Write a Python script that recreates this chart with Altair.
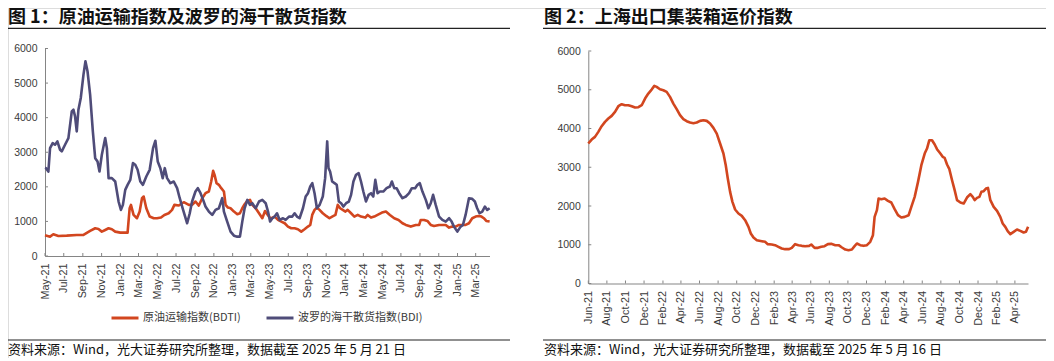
import altair as alt
import pandas as pd
import numpy as np

# ---------------- data ----------------
# Left panel: months after 2021-05-01 (axis label "May-21")
bdi_t = [0, 0.11, 0.36, 0.54, 0.82, 1.07, 1.32, 1.61, 1.79, 2.14, 2.5, 2.86, 3.04, 3.21, 3.39, 3.57, 3.82,
         4.11, 4.32, 4.54, 4.82, 5.11, 5.36, 5.61, 5.82, 6.07, 6.43, 6.61, 6.79, 7.14, 7.5, 7.86, 8.11, 8.32,
         8.57, 8.82, 9.11, 9.39, 9.64, 9.89, 10.18, 10.46, 10.82, 11.18, 11.54, 11.79, 12.04, 12.32, 12.57,
         12.79, 13.04, 13.39, 13.75, 14.11, 14.39, 14.75, 15.18, 15.46, 15.71, 16.07, 16.32, 16.61, 16.89,
         17.14, 17.5, 17.86, 18.21, 18.57, 18.93, 19.11, 19.46, 19.82, 20.18, 20.54, 20.82, 21.07, 21.32,
         21.61, 21.89, 22.14, 22.5, 22.86, 23.21, 23.57, 23.82, 24.04, 24.28, 24.53, 24.78, 25.06, 25.42,
         25.70, 26.06, 26.41, 26.66, 26.91, 27.19, 27.55, 27.84, 28.09, 28.33, 28.55, 28.79, 29.04, 29.33,
         29.67, 29.92, 30.14, 30.28, 30.45, 30.67, 30.92, 31.16, 31.38, 31.63, 31.87, 32.16, 32.45, 32.69,
         32.94, 33.22, 33.50, 33.75, 34.0, 34.28, 34.57, 34.82, 35.06, 35.28, 35.52, 35.77, 36.13, 36.48,
         36.84, 37.05, 37.30, 37.55, 37.83, 38.18, 38.54, 38.89, 39.18, 39.53, 39.78, 40.03, 40.31, 40.67,
         40.95, 41.20, 41.45, 41.73, 42.09, 42.44, 42.80, 43.16, 43.43, 43.68, 44.04, 44.39, 44.64, 44.92,
         45.28, 45.63, 45.91, 46.16, 46.41, 46.70, 46.98, 47.23, 47.49]
bdi_v = [2550, 2540, 2440, 3120, 3265, 3217, 3313, 3072, 3024, 3217, 3410, 4183, 4231, 4038, 3603, 4231, 4569,
         5245, 5632, 5342, 4666, 3603, 2830, 2734, 2444, 2927, 3410, 3120, 2251, 2251, 2154, 1575, 1333, 1478,
         1913, 2058, 2202, 2685, 2637, 2492, 2154, 2058, 2299, 2492, 3120, 3333, 2734, 2540, 2251,
         2540, 2251, 2106, 2154, 1961, 1671, 1333, 947, 1236, 1575, 1864, 1961, 1816, 1623,
         1430, 1285, 1188, 1333, 1381, 1671, 1285, 995, 705, 589, 560, 560, 995, 1381,
         1623, 1478, 1526, 1381, 1575, 1623, 1526, 1285, 995, 1092, 1140, 1236, 1043, 1092,
         1043, 1140, 1140, 1236, 1140, 1092, 1381, 1720, 1816, 2009, 2106, 1816, 1381, 1478,
         1720, 2251, 3313, 2540, 2444, 2154, 2106, 2058, 1575, 1526, 1430, 1526, 1575, 1768,
         2154, 2347, 2396, 2154, 1864, 1575, 1768, 1816, 1720, 2202, 1816, 1864, 1864, 1961,
         2009, 2154, 1961, 1961, 1816, 1671, 1720, 1816, 1961, 1961, 2058, 2106, 1864, 1623,
         1381, 1526, 1768, 1478, 1140, 1043, 995, 1092, 995, 850, 705, 850, 898, 1188,
         1671, 1652, 1575, 1381, 1236, 1285, 1430, 1333, 1381]

bdti_t = [0, 0.54, 0.89, 1.43, 2.32, 3.39, 4.11, 4.82, 5.36, 5.71, 6.07, 6.43, 6.79, 7.14, 7.5, 8.04, 8.82,
          9.04, 9.18, 9.46, 9.82, 10.11, 10.36, 10.54, 10.82, 11.18, 11.61, 11.96, 12.39, 12.75, 13.21, 13.57,
          13.82, 14.29, 14.82, 15.36, 15.71, 16.07, 16.43, 16.79, 17.14, 17.5, 17.75, 17.96, 18.11, 18.32,
          18.57, 18.82, 19.11, 19.29, 19.54, 19.82, 20.18, 20.54, 20.82, 21.07, 21.32, 21.61, 21.89, 22.14,
          22.5, 22.86, 23.21, 23.5, 23.75, 24.04, 24.18, 24.53, 24.89, 25.24, 25.60, 25.95, 26.30, 26.66,
          27.01, 27.37, 27.72, 28.08, 28.33, 28.54, 28.79, 29.04, 29.32, 29.67, 30.03, 30.38, 30.67, 31.02,
          31.27, 31.52, 31.80, 32.09, 32.33, 32.69, 33.04, 33.40, 33.75, 34.21, 34.46, 34.82, 35.17, 35.52,
          35.99, 36.41, 36.84, 37.30, 37.76, 38.18, 38.54, 39.07, 39.60, 39.96, 40.13, 40.49, 40.84, 41.20,
          41.55, 42.09, 42.44, 42.80, 43.16, 43.50, 43.86, 44.21, 44.57, 44.92, 45.28, 45.63, 45.99, 46.34,
          46.62, 46.87, 47.13, 47.49]
bdti_v = [600, 560, 628, 580, 589, 609, 609, 725, 802, 782, 705, 753, 802, 773, 705, 676, 676,
          1381, 1478, 1188, 1092, 1285, 1671, 1720, 1381, 1140, 1092, 1092, 1111, 1188, 1236, 1333,
          1478, 1459, 1555, 1478, 1478, 1575, 1459, 1671, 1816, 1864, 2154, 2463, 2347, 2106,
          2058, 1961, 1864, 1478, 1400, 1381, 1285, 1208, 1236, 1381, 1497, 1594, 1623, 1478,
          1381, 1236, 1092, 1300, 1200, 1100, 1092, 1140, 1043, 995, 947, 850, 802, 802,
          773, 705, 773, 850, 898, 1188, 1333, 1400, 1333, 1236, 1159, 1092, 1140, 1188,
          1478, 1381, 1333, 1285, 1333, 1236, 1140, 1188, 1140, 1111, 1188, 1111, 1140, 1188,
          1256, 1285, 1188, 1092, 1043, 947, 898, 850, 898, 898, 1043, 1043, 1014, 898,
          869, 898, 898, 898, 821, 850, 850, 898, 898, 898, 947, 1092, 1140, 1159,
          1140, 1092, 1014, 995]

# Right panel: months after 2021-06-01 (axis label "Jun-21")
scfi_t = [0, 0.36, 0.72, 1.08, 1.44, 1.80, 2.16, 2.52, 2.88, 3.24, 3.60, 3.96, 4.32, 4.68, 5.04, 5.40, 5.76,
          6.12, 6.47, 6.83, 7.12, 7.37, 7.73, 8.09, 8.45, 8.81, 9.17, 9.53, 9.89, 10.25, 10.61, 10.97, 11.33,
          11.69, 12.05, 12.41, 12.77, 13.13, 13.49, 13.85, 14.21, 14.57, 14.82, 15.04, 15.29, 15.54, 15.83,
          16.19, 16.55, 16.91, 17.27, 17.52, 17.81, 18.17, 18.71, 19.06, 19.35, 19.78, 20.14, 20.50, 20.86,
          21.22, 21.65, 21.94, 22.30, 22.66, 23.02, 23.38, 23.81, 24.04, 24.40, 24.76, 25.12, 25.47, 25.83,
          26.19, 26.63, 26.99, 27.35, 27.71, 28.06, 28.42, 28.71, 28.96, 29.32, 29.68, 30.04, 30.40, 30.69,
          30.87, 31.12, 31.30, 31.59, 31.95, 32.31, 32.67, 33.03, 33.39, 33.75, 34.11, 34.54, 34.83, 35.19,
          35.55, 35.91, 36.27, 36.52, 36.77, 37.06, 37.35, 37.60, 37.96, 38.21, 38.42, 38.68, 38.93, 39.22,
          39.50, 39.76, 40.12, 40.47, 40.83, 41.19, 41.45, 41.66, 41.91, 42.17, 42.38, 42.63, 42.88, 43.09,
          43.35, 43.71, 44.07, 44.42, 44.68, 44.96, 45.22, 45.50, 45.86, 46.22, 46.58, 46.94, 47.19, 47.42]
scfi_v = [3612, 3715, 3784, 3913, 4059, 4171, 4257, 4326, 4429, 4575, 4627, 4601, 4601, 4575, 4541, 4549, 4601,
          4773, 4902, 5005, 5100, 5074, 5014, 4988, 4945, 4816, 4644, 4498, 4343, 4240, 4188, 4154, 4137,
          4154, 4197, 4214, 4197, 4128, 4016, 3870, 3612, 3354, 3053, 2709, 2365, 2107, 1909,
          1806, 1746, 1634, 1462, 1290, 1187, 1118, 1092, 1075, 1015, 1006, 989, 946, 903,
          886, 886, 920, 1015, 989, 972, 963, 972, 1006, 920, 920, 946, 963, 1015,
          1023, 989, 989, 929, 877, 860, 877, 963, 1032, 989, 972, 989, 1075, 1247,
          1720, 1892, 2193, 2176, 2193, 2133, 2090, 1918, 1763, 1703, 1720, 1763, 1978, 2236,
          2623, 3053, 3354, 3483, 3698, 3698, 3586, 3466, 3354, 3268, 3242, 3070, 2950, 2666,
          2408, 2150, 2090, 2064, 2219, 2305, 2236, 2150, 2210, 2236, 2365, 2382, 2451, 2468,
          2150, 1978, 1875, 1720, 1548, 1462, 1350, 1273, 1333, 1393, 1359, 1316, 1333, 1462]

left_start, left_end_t = "2021-05-01", 47.49
right_start, right_end_t = "2021-06-01", 47.42

left_ticks = ["2021-05-01", "2021-07-01", "2021-09-01", "2021-11-01", "2022-01-01", "2022-03-01",
              "2022-05-01", "2022-07-01", "2022-09-01", "2022-11-01", "2023-01-01", "2023-03-01",
              "2023-05-01", "2023-07-01", "2023-09-01", "2023-11-01", "2024-01-01", "2024-03-01",
              "2024-05-01", "2024-07-01", "2024-09-01", "2024-11-01", "2025-01-01", "2025-03-01"]
right_ticks = ["2021-06-01", "2021-08-01", "2021-10-01", "2021-12-01", "2022-02-01", "2022-04-01",
               "2022-06-01", "2022-08-01", "2022-10-01", "2022-12-01", "2023-02-01", "2023-04-01",
               "2023-06-01", "2023-08-01", "2023-10-01", "2023-12-01", "2024-02-01", "2024-04-01",
               "2024-06-01", "2024-08-01", "2024-10-01", "2024-12-01", "2025-02-01", "2025-04-01"]
y_ticks = [0, 1000, 2000, 3000, 4000, 5000, 6000]

bdti_name = "原油运输指数(BDTI)"
bdi_name = "波罗的海干散货指数(BDI)"
titles = ["图 1：原油运输指数及波罗的海干散货指数", "图 2：上海出口集装箱运价指数"]
sources = ["资料来源：Wind，光大证券研究所整理，数据截至 2025 年 5 月 21 日",
           "资料来源：Wind，光大证券研究所整理，数据截至 2025 年 5 月 16 日"]

# ---------------- styling ----------------
RED = "#D2461F"
PURPLE = "#4F4C79"
AXIS_GREY = "#858585"
LABEL = "#3a3a3a"
CJK = "Noto Sans CJK SC"
LATIN = "Liberation Sans"
W, H = 1038, 350

# left plot area (chart coords, origin = page (8,8))
LX0, LX1, LY0, LY1 = 37, 481.5, 248, 40.5
# right plot area
RX0, RX1, RY0, RY1 = 580.3, 1020, 275.5, 43


def to_dates(start, t):
    return pd.Timestamp(start) + pd.to_timedelta(np.asarray(t, dtype=float) * 30.4375, unit="D")


def dt(ts):
    ts = pd.Timestamp(ts)
    return alt.DateTime(year=ts.year, month=ts.month, date=ts.day)


bdi_df = pd.DataFrame({"date": to_dates(left_start, bdi_t), "value": bdi_v, "series": bdi_name})
bdti_df = pd.DataFrame({"date": to_dates(left_start, bdti_t), "value": bdti_v, "series": bdti_name})
scfi_df = pd.DataFrame({"date": to_dates(right_start, scfi_t), "value": scfi_v})

left_end = to_dates(left_start, [left_end_t])[0]
right_end = to_dates(right_start, [right_end_t])[0]


def x_enc(field, start, end, ticks, rng, offset):
    return alt.X(f"{field}:T",
                 scale=alt.Scale(domain=[dt(start), dt(end)], range=list(rng), nice=False),
                 axis=alt.Axis(orient="bottom", offset=offset, values=[dt(t) for t in ticks],
                               format="%b-%y", labelAngle=270, ticks=False, tickSize=0,
                               labelPadding=7, grid=False, domainColor=AXIS_GREY, domainWidth=1,
                               labelFont=LATIN, labelFontSize=10.8, labelColor=LABEL,
                               labelOverlap=False, labelFlush=False, title=None))


def y_enc(field, rng, offset):
    return alt.Y(f"{field}:Q",
                 scale=alt.Scale(domain=[0, 6000], range=list(rng), nice=False, zero=False),
                 axis=alt.Axis(orient="left", offset=offset, values=y_ticks, format="d",
                               ticks=False, tickSize=0, labelPadding=8, grid=False,
                               domainColor=AXIS_GREY, domainWidth=1, labelFont=LATIN,
                               labelFontSize=10.5, labelColor=LABEL, title=None))


color_enc = alt.Color("series:N",
                      scale=alt.Scale(domain=[bdti_name, bdi_name], range=[RED, PURPLE]),
                      legend=alt.Legend(orient="none", legendX=102, legendY=295, direction="horizontal",
                                        title=None, symbolType="stroke", symbolSize=729,
                                        symbolStrokeWidth=3, labelFont=CJK, labelFontSize=11,
                                        labelColor=LABEL, labelOffset=3, columnPadding=19,
                                        padding=0, labelLimit=300))

lx = lambda f: x_enc(f, left_start, left_end, left_ticks, (LX0, LX1), -(H - LY0))
ly = lambda f: y_enc(f, (LY0, LY1), -LX0)
rx = lambda f: x_enc(f, right_start, right_end, right_ticks, (RX0, RX1), -(H - RY0))
ry = lambda f: y_enc(f, (RY0, RY1), -RX0)

left_bdti = alt.Chart(bdti_df).mark_line(strokeWidth=2.6, strokeJoin="round").encode(
    x=lx("date"), y=ly("value"), color=color_enc)
left_bdi = alt.Chart(bdi_df).mark_line(strokeWidth=2.6, strokeJoin="round").encode(
    x=lx("date"), y=ly("value"), color=color_enc)
left_xt = alt.Chart(pd.DataFrame({"date": pd.to_datetime(left_ticks)})).mark_rule(
    color=AXIS_GREY, strokeWidth=1).encode(x=lx("date"), y=alt.value(LY0), y2=alt.value(LY0 - 3))
left_yt = alt.Chart(pd.DataFrame({"value": y_ticks})).mark_rule(
    color=AXIS_GREY, strokeWidth=1).encode(y=ly("value"), x=alt.value(LX0), x2=alt.value(LX0 + 3))
left_panel = alt.layer(left_bdti, left_bdi, left_xt, left_yt)

right_line = alt.Chart(scfi_df).mark_line(strokeWidth=2.6, strokeJoin="round", color=RED).encode(
    x=rx("date"), y=ry("value"))
right_xt = alt.Chart(pd.DataFrame({"date": pd.to_datetime(right_ticks)})).mark_rule(
    color=AXIS_GREY, strokeWidth=1).encode(x=rx("date"), y=alt.value(RY0), y2=alt.value(RY0 - 3))
right_yt = alt.Chart(pd.DataFrame({"value": y_ticks})).mark_rule(
    color=AXIS_GREY, strokeWidth=1).encode(y=ry("value"), x=alt.value(RX0), x2=alt.value(RX0 + 3))
right_panel = alt.layer(right_line, right_xt, right_yt)

# decorations: titles, rules, sources
deco = []
for i, (tx, sx, x0, x1) in enumerate([(0, 0, 0, 502), (536, 536, 535, 1038)]):
    deco.append(alt.Chart(pd.DataFrame({"t": [titles[i]]})).mark_text(
        align="left", baseline="top", font=CJK, fontSize=18, fontWeight="bold", color="#111111"
    ).encode(text="t:N", x=alt.value(tx), y=alt.value(0.5)))
    deco.append(alt.Chart(pd.DataFrame({"t": [titles[i]]})).mark_rule(color="#222222", strokeWidth=1.2)
                .encode(x=alt.value(x0), x2=alt.value(x1), y=alt.value(20.3)))
    deco.append(alt.Chart(pd.DataFrame({"t": [sources[i]]})).mark_rule(color="#222222", strokeWidth=1.2)
                .encode(x=alt.value(x0), x2=alt.value(x1), y=alt.value(332)))
    deco.append(alt.Chart(pd.DataFrame({"t": [sources[i]]})).mark_text(
        align="left", baseline="middle", font=CJK, fontSize=13, color="#111111"
    ).encode(text="t:N", x=alt.value(sx), y=alt.value(341.5)))

chart = alt.layer(left_panel, right_panel, *deco).resolve_scale(
    x="independent", y="independent", color="independent"
).properties(
    width=W, height=H, padding=0, autosize=alt.AutoSizeParams(type="none")
).configure_view(stroke=None).configure(background="white")

chart.save("out.html", embed_options={"renderer": "svg", "actions": False})
